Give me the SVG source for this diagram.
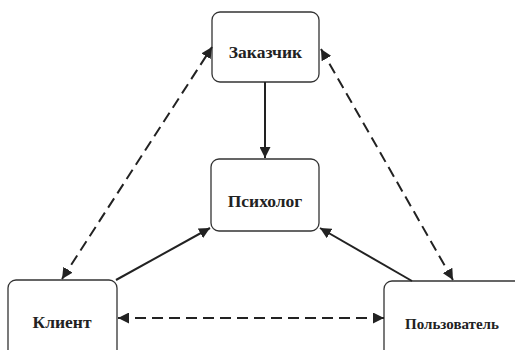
<svg xmlns="http://www.w3.org/2000/svg" width="515" height="350" viewBox="0 0 515 350">
<style>
.box{fill:#fff;stroke:#333;stroke-width:1.3}
.t{font-family:"Liberation Serif","Times New Roman",serif;font-weight:bold;fill:#222;text-anchor:middle;dominant-baseline:central}
.s{stroke:#222;stroke-width:2;fill:none}
.d{stroke:#222;stroke-width:2;fill:none;stroke-dasharray:11 6}
</style>
<defs>
<marker id="ah" viewBox="0 0 10 10" refX="10" refY="5" markerWidth="5.5" markerHeight="5.5" orient="auto-start-reverse" markerUnits="strokeWidth">
<path d="M0,0 L10,5 L0,10 z" fill="#222"/>
</marker>
</defs>
<rect width="515" height="350" fill="#fff"/>
<g id="zakazchik"><rect class="box" x="212" y="12" width="107" height="70" rx="8"/><text class="t" x="265.5" y="52" font-size="17.5">Заказчик</text></g>
<g id="psiholog"><rect class="box" x="211" y="159" width="108" height="72" rx="8"/><text class="t" x="265" y="201" font-size="17.5">Психолог</text></g>
<g id="klient"><rect class="box" x="8" y="280" width="109" height="80" rx="8"/><text class="t" x="62" y="322" font-size="17.5">Клиент</text></g>
<g id="polzovatel"><rect class="box" x="384" y="281" width="140" height="80" rx="8"/><text class="t" x="452" y="324" font-size="15">Пользователь</text></g>
<g id="connectors">
<path class="s" d="M265,82 L265,158" marker-end="url(#ah)"/>
<path class="s" d="M116,280 L210,228" marker-end="url(#ah)"/>
<path class="s" d="M412,281 L320,228" marker-end="url(#ah)"/>
<path class="d" d="M62,279 L212,47" marker-start="url(#ah)" marker-end="url(#ah)"/>
<path class="d" d="M321,49 L453,280" marker-start="url(#ah)" marker-end="url(#ah)"/>
<path class="d" d="M118,318 L384,318" marker-start="url(#ah)" marker-end="url(#ah)"/>
</g>
</svg>
